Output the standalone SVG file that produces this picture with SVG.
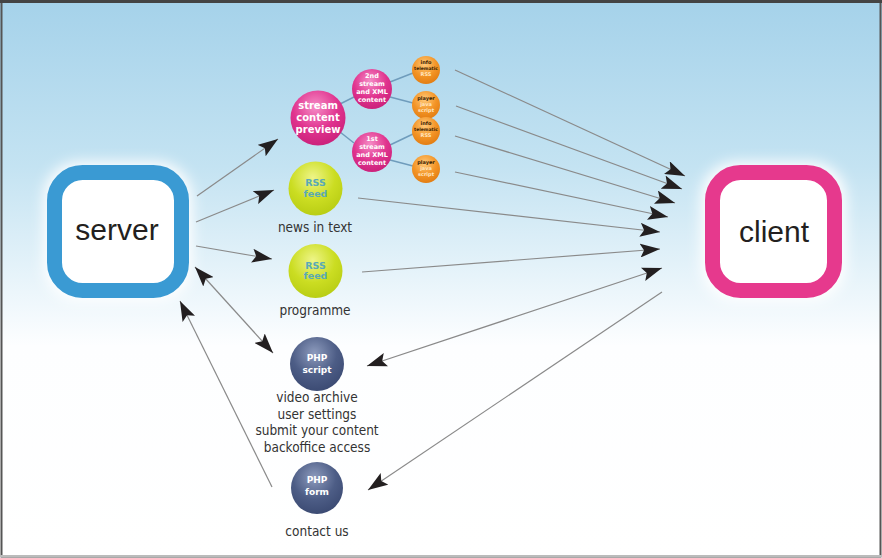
<svg xmlns="http://www.w3.org/2000/svg" width="882" height="558" viewBox="0 0 882 558">
<defs>
<linearGradient id="bg" x1="0" y1="0" x2="0" y2="1">
<stop offset="0" stop-color="#a5d2ea"/>
<stop offset="0.3" stop-color="#c4e3f2"/>
<stop offset="0.62" stop-color="#fdfeff"/>
<stop offset="1" stop-color="#ffffff"/>
</linearGradient>
<radialGradient id="gMag" cx="0.45" cy="0.3" r="0.75">
<stop offset="0" stop-color="#f58cc6"/>
<stop offset="0.55" stop-color="#e0338e"/>
<stop offset="1" stop-color="#c81e78"/>
</radialGradient>
<radialGradient id="gOr" cx="0.45" cy="0.3" r="0.75">
<stop offset="0" stop-color="#ffc979"/>
<stop offset="0.55" stop-color="#f39426"/>
<stop offset="1" stop-color="#e07a10"/>
</radialGradient>
<radialGradient id="gYel" cx="0.45" cy="0.3" r="0.75">
<stop offset="0" stop-color="#eef588"/>
<stop offset="0.55" stop-color="#cbdd22"/>
<stop offset="1" stop-color="#b6cb12"/>
</radialGradient>
<radialGradient id="gPhp" cx="0.45" cy="0.3" r="0.75">
<stop offset="0" stop-color="#8d9bbd"/>
<stop offset="0.55" stop-color="#4d5d86"/>
<stop offset="1" stop-color="#394870"/>
</radialGradient>
<filter id="glow" x="-30%" y="-30%" width="160%" height="160%">
<feGaussianBlur stdDeviation="7"/>
</filter>
<marker id="ah" viewBox="0 0 20 14" refX="20" refY="7" markerWidth="20" markerHeight="14" markerUnits="userSpaceOnUse" orient="auto-start-reverse">
<path d="M0,0 L20,7 L0,14 L4,7 Z" fill="#231f20"/>
</marker>
</defs>
<style>
.box{fill:#ffffff;stroke-width:15}
.big{font-family:"Liberation Sans",Arial,sans-serif;font-size:30px;fill:#231f20;text-anchor:middle}
.lbl{font-family:"DejaVu Sans Condensed","DejaVu Sans",sans-serif;font-stretch:condensed;font-size:13.5px;fill:#333333;text-anchor:middle}
.ct{font-family:"DejaVu Sans",sans-serif;font-weight:bold;text-anchor:middle}
.w{fill:#ffffff}
.link{stroke:#6f9cbc;stroke-width:1.5;fill:none}
.conn{stroke:#8a8a8a;stroke-width:1.2;fill:none;marker-end:url(#ah)}
.bi{marker-start:url(#ah)}
</style>
<rect x="0" y="0" width="882" height="558" fill="url(#bg)"/>
<rect x="1.5" y="1.5" width="879" height="555" fill="none" stroke="#555555" stroke-width="2"/>
<line x1="0" y1="1.5" x2="882" y2="1.5" stroke="#444" stroke-width="3"/>
<line x1="0" y1="556" x2="882" y2="556" stroke="#bbbbbb" stroke-width="2"/>

<g id="server">
<rect x="44" y="162" width="148" height="139" rx="36" fill="#ffffff" filter="url(#glow)"/>
<rect class="box" x="54.5" y="172.5" width="127" height="118" rx="28" stroke="#3a9ad3"/>
<text class="big" x="117" y="240">server</text>
</g>

<g id="client">
<rect x="701" y="162" width="145" height="139" rx="36" fill="#ffffff" filter="url(#glow)"/>
<rect class="box" x="712.5" y="172.5" width="122" height="118" rx="28" stroke="#e6398d"/>
<text class="big" x="774" y="242">client</text>
</g>

<g id="links">
<line class="link" x1="340" y1="104" x2="354" y2="97"/>
<line class="link" x1="340" y1="132" x2="354" y2="143"/>
<line class="link" x1="390" y1="82" x2="413" y2="73"/>
<line class="link" x1="390" y1="97" x2="413" y2="103"/>
<line class="link" x1="390" y1="145" x2="413" y2="134"/>
<line class="link" x1="390" y1="160" x2="413" y2="166"/>
</g>

<g id="stream-preview">
<circle cx="318" cy="118" r="27.5" fill="url(#gMag)"/>
<text class="ct w" font-size="10" x="318" y="109">stream</text>
<text class="ct w" font-size="10" x="318" y="121">content</text>
<text class="ct w" font-size="10" x="318" y="133">preview</text>
</g>

<g id="stream-2nd">
<circle cx="372" cy="89" r="20" fill="url(#gMag)"/>
<text class="ct w" font-size="6.5" x="372" y="77.5">2nd</text>
<text class="ct w" font-size="6.5" x="372" y="85.5">stream</text>
<text class="ct w" font-size="6.5" x="372" y="93.5">and XML</text>
<text class="ct w" font-size="6.5" x="372" y="101.5">content</text>
</g>

<g id="stream-1st">
<circle cx="372" cy="152" r="20" fill="url(#gMag)"/>
<text class="ct w" font-size="6.5" x="372" y="141">1st</text>
<text class="ct w" font-size="6.5" x="372" y="149">stream</text>
<text class="ct w" font-size="6.5" x="372" y="157">and XML</text>
<text class="ct w" font-size="6.5" x="372" y="165">content</text>
</g>

<g id="info-1">
<circle cx="426" cy="70" r="14" fill="url(#gOr)"/>
<text class="ct" font-size="5" fill="#3a2000" x="426" y="64">info</text>
<text class="ct" font-size="4.5" fill="#3a2000" x="426" y="69.5">telematic</text>
<text class="ct" font-size="5" fill="#ffe6c0" x="426" y="76">RSS</text>
</g>

<g id="player-1">
<circle cx="426" cy="105" r="14" fill="url(#gOr)"/>
<text class="ct" font-size="5" fill="#3a2000" x="426" y="100">player</text>
<text class="ct" font-size="5" fill="#ffe6c0" x="426" y="106">java</text>
<text class="ct" font-size="5" fill="#ffe6c0" x="426" y="112">script</text>
</g>

<g id="info-2">
<circle cx="426" cy="131" r="14" fill="url(#gOr)"/>
<text class="ct" font-size="5" fill="#3a2000" x="426" y="125">info</text>
<text class="ct" font-size="4.5" fill="#3a2000" x="426" y="130.5">telematic</text>
<text class="ct" font-size="5" fill="#ffe6c0" x="426" y="137">RSS</text>
</g>

<g id="player-2">
<circle cx="426" cy="169" r="14" fill="url(#gOr)"/>
<text class="ct" font-size="5" fill="#3a2000" x="426" y="164">player</text>
<text class="ct" font-size="5" fill="#ffe6c0" x="426" y="170">java</text>
<text class="ct" font-size="5" fill="#ffe6c0" x="426" y="176">script</text>
</g>

<g id="rss-news">
<circle cx="315.5" cy="188.5" r="27" fill="url(#gYel)"/>
<text class="ct" font-size="9.5" fill="#5aa9b6" x="315.5" y="186">RSS</text>
<text class="ct" font-size="9.5" fill="#5aa9b6" x="315.5" y="196.5">feed</text>
<text class="lbl" x="315" y="232">news in text</text>
</g>

<g id="rss-programme">
<circle cx="315.5" cy="271" r="27" fill="url(#gYel)"/>
<text class="ct" font-size="9.5" fill="#5aa9b6" x="315.5" y="268.5">RSS</text>
<text class="ct" font-size="9.5" fill="#5aa9b6" x="315.5" y="279">feed</text>
<text class="lbl" x="315" y="315">programme</text>
</g>

<g id="php-script">
<circle cx="317" cy="364" r="27" fill="url(#gPhp)"/>
<text class="ct w" font-size="9" x="317" y="361">PHP</text>
<text class="ct w" font-size="9" x="317" y="373">script</text>
<text class="lbl" x="317" y="402">video archive</text>
<text class="lbl" x="317" y="418.5">user settings</text>
<text class="lbl" x="317" y="435">submit your content</text>
<text class="lbl" x="317" y="451.5">backoffice access</text>
</g>

<g id="php-form">
<circle cx="317" cy="488" r="26" fill="url(#gPhp)"/>
<text class="ct w" font-size="9" x="317" y="483">PHP</text>
<text class="ct w" font-size="9" x="317" y="495">form</text>
<text class="lbl" x="317" y="536">contact us</text>
</g>

<g id="connectors">
<line class="conn" x1="197" y1="196" x2="278" y2="139"/>
<line class="conn" x1="196" y1="222" x2="274" y2="190"/>
<line class="conn" x1="196" y1="246" x2="272" y2="259"/>
<line class="conn bi" x1="195" y1="267" x2="273" y2="353"/>
<line class="conn" x1="272" y1="487" x2="180" y2="301"/>
<line class="conn" x1="455" y1="70" x2="685" y2="176"/>
<line class="conn" x1="456" y1="106" x2="682" y2="189"/>
<line class="conn" x1="455" y1="136" x2="675" y2="203"/>
<line class="conn" x1="455" y1="172" x2="668" y2="217"/>
<line class="conn" x1="358" y1="198" x2="660" y2="232"/>
<line class="conn" x1="362" y1="272" x2="660" y2="249"/>
<line class="conn bi" x1="367" y1="366" x2="662" y2="268"/>
<line class="conn" x1="662" y1="292" x2="368" y2="490"/>
</g>
</svg>
